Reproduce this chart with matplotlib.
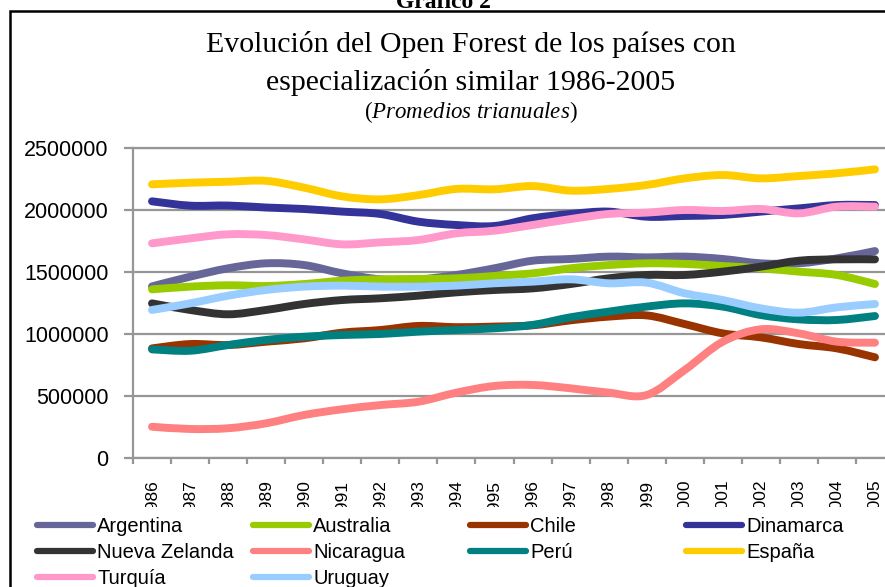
import numpy as np
import matplotlib
matplotlib.use("Agg")
import matplotlib.pyplot as plt
from matplotlib.path import Path
from matplotlib.patches import PathPatch, Rectangle
from matplotlib.lines import Line2D
from matplotlib.transforms import Bbox, TransformedBbox

plt.rcParams['font.family'] = ['Liberation Sans', 'DejaVu Sans']
plt.rcParams['mathtext.fontset'] = 'custom'
plt.rcParams['mathtext.rm'] = 'Liberation Serif'
plt.rcParams['mathtext.it'] = 'Liberation Serif:italic'

years = ['1986', '1987', '1988', '1989', '1990', '1991', '1992', '1993', '1994', '1995',
         '1996', '1997', '1998', '1999', '2000', '2001', '2002', '2003', '2004', '2005']

argentina = [1384000, 1462000, 1530000, 1570000, 1556000, 1489000, 1441000, 1440000, 1476000, 1530000,
             1591000, 1605000, 1624000, 1618000, 1624000, 1605000, 1570000, 1570000, 1610000, 1669000]
australia = [1360000, 1382000, 1393000, 1387000, 1403000, 1430000, 1441000, 1444000, 1449000, 1468000,
             1489000, 1530000, 1556000, 1570000, 1565000, 1548000, 1530000, 1503000, 1476000, 1403000]
chile = [884000, 919000, 911000, 938000, 965000, 1011000, 1032000, 1065000, 1055000, 1060000,
         1070000, 1110000, 1140000, 1150000, 1080000, 1005000, 973000, 919000, 884000, 812000]
dinamarca = [2070000, 2035000, 2036000, 2020000, 2008000, 1987000, 1968000, 1906000, 1879000, 1871000,
             1933000, 1968000, 1987000, 1946000, 1952000, 1960000, 1987000, 2013000, 2040000, 2040000]
nueva_zelanda = [1247000, 1194000, 1159000, 1194000, 1242000, 1274000, 1288000, 1309000, 1336000, 1355000,
                 1368000, 1403000, 1449000, 1476000, 1476000, 1503000, 1543000, 1591000, 1602000, 1602000]
nicaragua = [252000, 234000, 240000, 280000, 347000, 393000, 427000, 454000, 527000, 581000,
             589000, 562000, 527000, 508000, 710000, 938000, 1038000, 1005000, 938000, 930000]
peru = [876000, 865000, 911000, 952000, 978000, 992000, 1000000, 1019000, 1032000, 1046000,
        1073000, 1135000, 1180000, 1221000, 1247000, 1221000, 1153000, 1118000, 1113000, 1145000]
espana = [2207000, 2220000, 2228000, 2235000, 2180000, 2110000, 2086000, 2120000, 2170000, 2167000,
          2193000, 2156000, 2170000, 2202000, 2255000, 2282000, 2255000, 2274000, 2296000, 2328000]
turquia = [1731000, 1771000, 1804000, 1798000, 1763000, 1723000, 1739000, 1758000, 1812000, 1833000,
           1879000, 1927000, 1968000, 1979000, 2000000, 1992000, 2008000, 1973000, 2027000, 2027000]
uruguay = [1194000, 1247000, 1309000, 1355000, 1382000, 1390000, 1382000, 1382000, 1390000, 1409000,
           1422000, 1441000, 1409000, 1414000, 1328000, 1274000, 1207000, 1172000, 1215000, 1242000]

names = ['Argentina', 'Australia', 'Chile', 'Dinamarca', 'Nueva Zelanda',
         'Nicaragua', 'Perú', 'España', 'Turquía', 'Uruguay']
series = [argentina, australia, chile, dinamarca, nueva_zelanda,
          nicaragua, peru, espana, turquia, uruguay]
colors = ['#666699', '#99CC00', '#993300', '#333399', '#333333',
          '#FF8080', '#008080', '#FFCC00', '#FF99CC', '#99CCFF']

yticks = [0, 500000, 1000000, 1500000, 2000000, 2500000]


def smooth_path(xs, ys):
    # Excel-like smoothed line: bezier segments through every data point
    pts = np.column_stack([xs, ys]).astype(float)
    ext = np.vstack([pts[0], pts, pts[-1]])
    verts = [pts[0]]
    codes = [Path.MOVETO]
    for i in range(len(pts) - 1):
        p0, p1, p2, p3 = ext[i], ext[i + 1], ext[i + 2], ext[i + 3]
        verts += [p1 + (p2 - p0) / 6, p2 - (p3 - p1) / 6, p2]
        codes += [Path.CURVE4] * 3
    return Path(verts, codes)


W, H = 885, 587
fig = plt.figure(figsize=(W / 100, H / 100), dpi=100)

# outer frame (right/bottom edges fall outside the picture)
fig.add_artist(Rectangle((10 / W, -0.2), 1.5, 1.2 - 11 / H, transform=fig.transFigure,
                         fill=False, ec='black', lw=1.8, clip_on=False))

fig.text(443 / W, 1 - 8 / H, 'Gráfico 2', family='Liberation Serif', weight='bold',
         fontsize=17, ha='center', va='baseline')
fig.text(471 / W, 1 - 45 / H, 'Evolución del Open Forest de los países con',
         family='Liberation Serif', fontsize=21.5, ha='center', va='center')
fig.text(471 / W, 1 - 82 / H, 'especialización similar 1986-2005',
         family='Liberation Serif', fontsize=21.5, ha='center', va='center')
fig.text(471 / W, 1 - 112 / H, r'($\it{Promedios\ trianuales}$)', family='Liberation Serif',
         fontsize=16.5, ha='center', va='center')

ax = fig.add_axes([133 / W, 129 / H, 761 / W, 310 / H])
x = np.arange(len(years))
for vals, c in zip(series, colors):
    ax.add_patch(PathPatch(smooth_path(x, vals), fill=False, ec=c, lw=5.7,
                           capstyle='round', joinstyle='round'))

ax.set_xlim(-0.5, len(years) - 0.5)
ax.set_ylim(0, 2500000)
ax.set_yticks(yticks)
ax.set_yticklabels([str(v) for v in yticks])
ax.set_xticks(x)
ax.set_xticklabels(years, rotation=90)
ax.set_xticks(np.arange(-0.5, len(years), 1), minor=True)

grid_c = '#969696'
ax.yaxis.grid(True, color=grid_c, lw=1.6)
ax.set_axisbelow(True)
ax.spines['right'].set_visible(False)
for s in ['left', 'bottom', 'top']:
    ax.spines[s].set_color(grid_c)
    ax.spines[s].set_linewidth(1.6)
ax.tick_params(axis='y', length=6.5, width=1.6, color=grid_c, pad=11, labelsize=15.5)
ax.tick_params(axis='x', which='major', length=0, pad=15.5, labelsize=12.5)
ax.tick_params(axis='x', which='minor', length=4.3, width=1.6, color=grid_c)

# the year labels are cut off at the bottom in the original
clip = TransformedBbox(Bbox([[0, 80 / H], [1, 1]]), fig.transFigure)
for lab in ax.get_xticklabels():
    lab.set_clip_on(True)
    lab.set_clip_box(clip)

# legend, row-major in 4 columns
handles = [Line2D([], [], color=c, lw=4.5, solid_capstyle='round') for c in colors]
col_x = [37, 253, 470, 686]
for ci in range(4):
    idx = list(range(ci, len(names), 4))
    fig.legend([handles[i] for i in idx], [names[i] for i in idx],
               loc='upper left', bbox_to_anchor=(col_x[ci] / W, 1 - 517 / H),
               frameon=False, fontsize=14.5, handlelength=2.8, handletextpad=0.2,
               borderpad=0, borderaxespad=0, labelspacing=0.36)

fig.savefig('out.png', dpi=100)
